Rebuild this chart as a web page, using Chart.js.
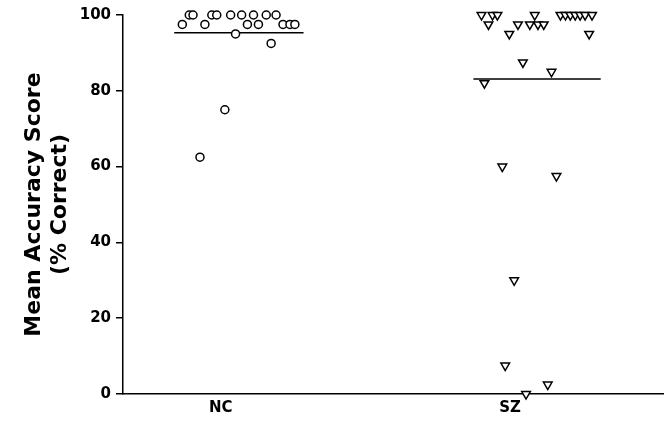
<!DOCTYPE html>
<html>
<head>
<meta charset="utf-8">
<script src="https://cdn.jsdelivr.net/npm/chart.js@4.4.1/dist/chart.umd.min.js"></script>
<style>
  body { margin: 0; background: #fff; }
  #wrap { width: 670px; height: 423px; }
</style>
</head>
<body>
<div id="wrap"><canvas id="accuracyChart"></canvas></div>
<script>
// groups on the x axis
const groups = ['NC', 'SZ'];

// NC scores and their horizontal scatter (offset from group centre)
const ncScores = [100, 100, 100, 100, 100, 100, 100, 100, 100,
                  97.5, 97.5, 97.5, 97.5, 97.5, 97.5, 97.5,
                  95, 92.5, 75, 62.5];
const ncJitter = [-0.109, -0.096, -0.031, -0.014, 0.034, 0.072, 0.113, 0.157, 0.191,
                  -0.133, -0.055, 0.092, 0.130, 0.215, 0.239, 0.256,
                  0.051, 0.174, 0.014, -0.072];

// SZ scores and their horizontal scatter
const szScores = [100, 100, 100, 100, 100, 100, 100, 100, 100, 100, 100,
                  97.5, 97.5, 97.5, 97.5, 97.5,
                  95, 95, 87.5, 85, 82, 60, 57.5, 30, 7.5, 2.5, 0];
const szJitter = [-0.099, -0.061, -0.044, 0.085, 0.174, 0.191, 0.208, 0.225, 0.242, 0.259, 0.283,
                  -0.075, 0.027, 0.068, 0.096, 0.116,
                  -0.003, 0.273, 0.044, 0.143, -0.089, -0.027, 0.160, 0.014, -0.017, 0.130, 0.055];

// group means (horizontal bars)
const groupMeans = [95.3, 83.1];

const yTicks = [0, 20, 40, 60, 80, 100];

function points(groupIndex, scores, jitter) {
    return scores.map((s, i) => ({ x: groupIndex + 1 + jitter[i], y: s }));
}

function meanLine(groupIndex, jitter) {
    const lo = groupIndex + 1 + Math.min(...jitter) - 0.028;
    const hi = groupIndex + 1 + Math.max(...jitter) + 0.03;
    return [{ x: lo, y: groupMeans[groupIndex] }, { x: hi, y: groupMeans[groupIndex] }];
}

const fontFamily = "'DejaVu Sans', sans-serif";

new Chart(document.getElementById('accuracyChart'), {
    type: 'scatter',
    data: {
        datasets: [
            {
                label: 'NC',
                data: points(0, ncScores, ncJitter),
                pointStyle: 'circle',
                pointRadius: 4,
                borderWidth: 1.5,
                borderColor: '#000',
                backgroundColor: '#fff',
                clip: false,
                order: 0
            },
            {
                label: 'SZ',
                data: points(1, szScores, szJitter),
                pointStyle: 'triangle',
                rotation: 180,
                pointRadius: 5,
                borderWidth: 1.5,
                borderColor: '#000',
                backgroundColor: '#fff',
                clip: false,
                order: 0
            },
            {
                label: 'NC mean',
                data: meanLine(0, ncJitter),
                showLine: true,
                pointRadius: 0,
                borderColor: '#000',
                borderWidth: 1.5,
                order: 1
            },
            {
                label: 'SZ mean',
                data: meanLine(1, szJitter),
                showLine: true,
                pointRadius: 0,
                borderColor: '#000',
                borderWidth: 1.5,
                order: 1
            }
        ]
    },
    options: {
        responsive: true,
        maintainAspectRatio: false,
        animation: false,
        layout: { padding: { top: 15, right: 2, left: 0, bottom: 0 } },
        plugins: {
            legend: { display: false },
            tooltip: { enabled: false }
        },
        scales: {
            x: {
                type: 'linear',
                min: 0.662,
                max: 2.53,
                afterBuildTicks: (scale) => {
                    scale.ticks = groups.map((g, i) => ({ value: i + 1 }));
                },
                afterFit: (scale) => { scale.height = 29; },
                ticks: {
                    color: '#000',
                    padding: 5,
                    font: { family: fontFamily, size: 15, weight: 'bold' },
                    callback: (value) => groups[value - 1]
                },
                grid: { display: false, drawTicks: false },
                border: { display: true, color: '#000', width: 1.5 }
            },
            y: {
                min: 0,
                max: 100,
                afterBuildTicks: (scale) => {
                    scale.ticks = yTicks.map((v) => ({ value: v }));
                },
                afterFit: (scale) => { scale.width = 123; },
                ticks: {
                    color: '#000',
                    padding: 5,
                    font: { family: fontFamily, size: 15, weight: 'bold' }
                },
                grid: {
                    display: true,
                    drawOnChartArea: false,
                    drawTicks: true,
                    tickLength: 7,
                    color: '#000',
                    lineWidth: 1.5
                },
                border: { display: true, color: '#000', width: 1.5 },
                title: {
                    display: true,
                    text: ['Mean Accuracy Score', '(% Correct)'],
                    color: '#000',
                    padding: { top: 22, bottom: 0 },
                    font: { family: fontFamily, size: 22, weight: 'bold', lineHeight: 1.15 }
                }
            }
        }
    }
});
</script>
</body>
</html>
